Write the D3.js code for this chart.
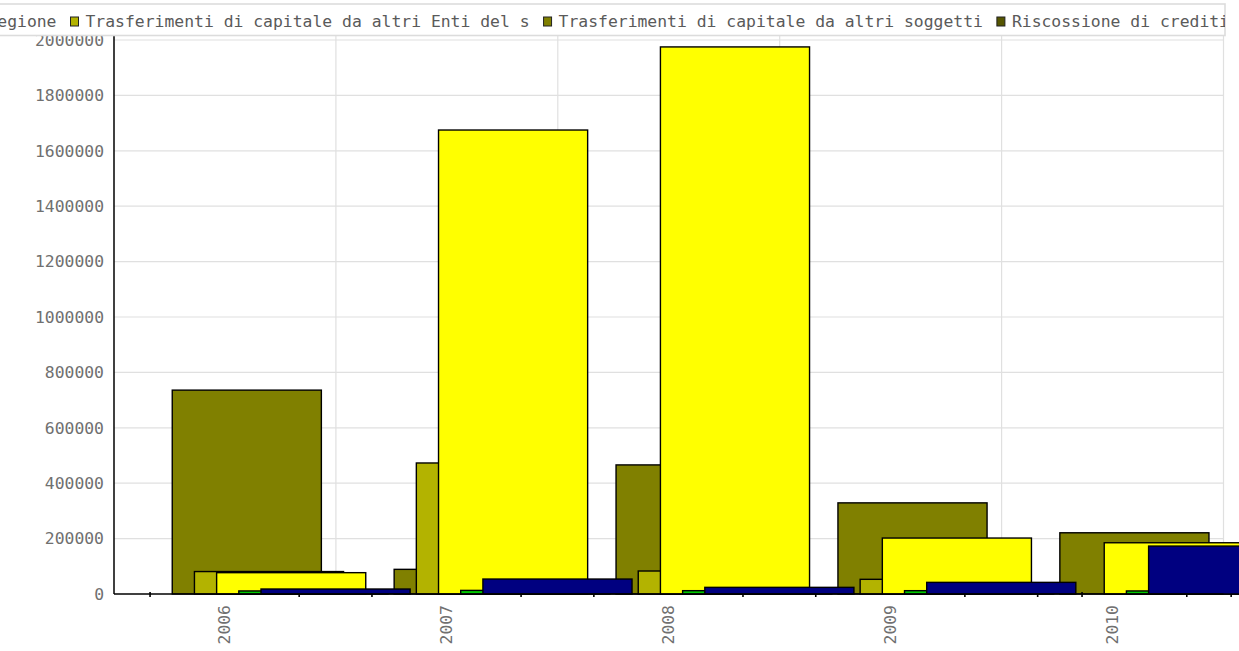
<!DOCTYPE html>
<html>
<head>
<meta charset="utf-8">
<script src="https://cdn.jsdelivr.net/npm/d3@7"></script>
<style>
  html, body { margin: 0; padding: 0; background: #fff; }
  svg { display: block; }
  text { font-family: "DejaVu Sans Mono", monospace; }
</style>
</head>
<body>
<svg id="chart" width="1239" height="651"></svg>
<script>
// Entrate in conto capitale per anno (euro)
const years = ["2006", "2007", "2008", "2009", "2010"];

const seriesNames = [
  "Alienazione di beni patrimoniali",
  "Trasferimenti di capitale dallo Stato",
  "Trasferimenti di capitale dalla Regione",
  "Trasferimenti di capitale da altri Enti del settore pubblico",
  "Trasferimenti di capitale da altri soggetti",
  "Riscossione di crediti"
];

const alienazione   = [0, 0, 0, 0, 0];
const stato         = [736000, 89000, 466000, 329000, 221000];
const regione       = [81000, 473000, 83000, 53000, 0];
const altriEnti     = [77000, 1675000, 1975000, 202000, 185000];
const altriSoggetti = [11000, 13000, 12000, 12000, 11000];
const riscossione   = [18000, 54000, 24000, 42000, 173000];

const seriesValues = [alienazione, stato, regione, altriEnti, altriSoggetti, riscossione];

const barColors    = ["#ff0000", "#808000", "#b3b300", "#ffff00", "#00c800", "#000080"];
const legendColors = ["#ffffa0", "#ffff40", "#dede00", "#b3b300", "#808000", "#555500"];

const yTicks = [0, 200000, 400000, 600000, 800000, 1000000, 1200000, 1400000, 1600000, 1800000, 2000000];

// ---- layout ----
const svg = d3.select("#chart");
const plot = { left: 114, right: 1223.5, top: 40, bottom: 594 };

const x = d3.scaleBand().domain(years).range([plot.left, plot.right]).padding(0);
const B = x.bandwidth();
// series slots inside each year band: each slot is a tenth of the band
const xs = d3.scaleBand().domain(d3.range(seriesNames.length))
  .range([B * 0.1625, B * 0.7625]).padding(0);
const barW = B * 0.672;

const y = d3.scaleLinear().domain([0, 2000000]).range([plot.bottom, plot.top]);

// ---- grid ----
const grid = svg.append("g").attr("stroke", "#e0e0e0").attr("stroke-width", 1.2);
grid.selectAll("line.h").data(yTicks.filter(d => d > 0)).join("line")
  .attr("x1", plot.left).attr("x2", plot.right)
  .attr("y1", d => y(d)).attr("y2", d => y(d));
grid.selectAll("line.v").data(years).join("line")
  .attr("x1", d => x(d) + B).attr("x2", d => x(d) + B)
  .attr("y1", plot.top - 4).attr("y2", plot.bottom);

// ---- y axis ----
const yAxis = d3.axisLeft(y).tickValues(yTicks).tickSize(0).tickPadding(10).tickFormat(d3.format("d"));
const gy = svg.append("g").attr("transform", `translate(${plot.left},0)`).call(yAxis);
gy.select(".domain").remove();
gy.selectAll("text").attr("fill", "#707070").style("font-size", "16.4px")
  .style("font-family", "'DejaVu Sans Mono', monospace");

// ---- x axis labels ----
const gx = svg.append("g");
gx.selectAll("text").data(years).join("text")
  .attr("transform", d => `translate(${x(d) + B / 2},${plot.bottom + 11}) rotate(-90)`)
  .attr("text-anchor", "end").attr("dominant-baseline", "central")
  .attr("fill", "#707070").style("font-size", "16.4px")
  .text(d => d);

// ---- bars ----
const bars = svg.append("g");
seriesValues.forEach((vals, si) => {
  const g = bars.append("g");
  const data = years.map((yr, i) => ({ yr, v: vals[i] }));
  g.selectAll("rect").data(data.filter(d => d.v > 0)).join("rect")
    .attr("x", d => x(d.yr) + xs(si))
    .attr("width", barW)
    .attr("y", d => y(d.v))
    .attr("height", d => y(0) - y(d.v))
    .attr("fill", barColors[si])
    .attr("stroke", "#000").attr("stroke-width", 1.4);
  // empty bars leave only their edges on the baseline
  const zeros = data.filter(d => d.v === 0);
  g.selectAll("line").data(zeros.flatMap(d => [x(d.yr) + xs(si), x(d.yr) + xs(si) + barW])).join("line")
    .attr("x1", d => d).attr("x2", d => d)
    .attr("y1", y(0) - 2).attr("y2", y(0) + 3)
    .attr("stroke", "#000").attr("stroke-width", 1.6);
});

// ---- axis lines ----
svg.append("line").attr("x1", plot.left).attr("x2", plot.left)
  .attr("y1", plot.top - 4).attr("y2", plot.bottom)
  .attr("stroke", "#000").attr("stroke-width", 1.5);
svg.append("line").attr("x1", plot.left).attr("x2", plot.right)
  .attr("y1", plot.bottom).attr("y2", plot.bottom)
  .attr("stroke", "#000").attr("stroke-width", 1.5);

// ---- legend (right aligned, wider than the page, clipped at its box) ----
const maxLabel = 45;
const legendLabels = seriesNames.map(s => s.length > maxLabel ? s.slice(0, maxLabel) : s);
const legendRight = 1225;
svg.append("clipPath").attr("id", "legend-clip")
  .append("rect").attr("x", -2000).attr("y", 0).attr("width", 2000 + legendRight).attr("height", 40);
const legend = svg.append("g");
const legendBox = legend.append("rect").attr("fill", "#fff").attr("stroke", "#dcdcdc").attr("stroke-width", 1.6);
const items = legend.append("g").attr("clip-path", "url(#legend-clip)").append("g");
const swGap = 15, itemGap = 14;
let cx = 0;
legendLabels.forEach((lab, i) => {
  const it = items.append("g").attr("transform", `translate(${cx},0)`);
  it.append("rect").attr("x", 0).attr("y", 17).attr("width", 8).attr("height", 9)
    .attr("fill", legendColors[i]).attr("stroke", "#222").attr("stroke-width", 1);
  const t = it.append("text").attr("x", swGap).attr("y", 27)
    .attr("fill", "#5a5a5a").style("font-size", "16.4px").text(lab);
  cx += swGap + t.node().getComputedTextLength() + itemGap;
});
const contentW = cx - itemGap;
// the last label runs slightly past the box edge and is cut there
const shift = legendRight + 4 - contentW;
items.attr("transform", `translate(${shift},0)`);
legendBox.attr("x", shift - 6).attr("y", 4).attr("width", legendRight - shift + 6).attr("height", 31.5);
</script>
</body>
</html>
